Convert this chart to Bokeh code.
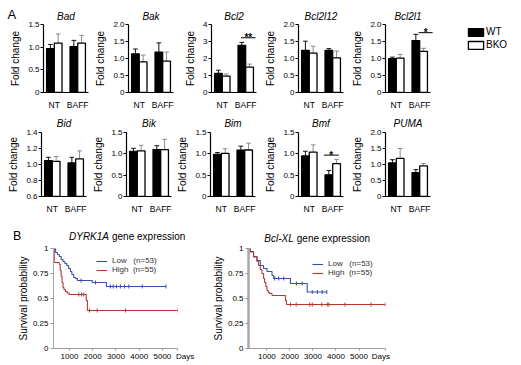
import numpy as np
from bokeh.plotting import figure
from bokeh.layouts import row, column
from bokeh.models import (Range1d, FixedTicker, Legend, LegendItem, ColumnDataSource)
from bokeh.embed import file_html
from bokeh.resources import INLINE
from bokeh.core.properties import value

FONT = "Liberation Sans"

# ---------------- data: panel A ----------------
conditions = ["NT", "BAFF"]
genotypes = ["WT", "BKO"]
genes_top = ["Bad", "Bak", "Bcl2", "Bcl2l12", "Bcl2l1"]
genes_bottom = ["Bid", "Bik", "Bim", "Bmf", "PUMA"]

wt_mean = {"Bad": [0.97, 1.01], "Bak": [1.14, 1.19], "Bcl2": [1.13, 2.78],
           "Bcl2l12": [1.24, 1.24], "Bcl2l1": [1.00, 1.53], "Bid": [1.05, 1.02],
           "Bik": [1.06, 1.10], "Bim": [0.99, 1.09], "Bmf": [0.95, 0.51],
           "PUMA": [1.05, 0.75]}
wt_sd = {"Bad": [0.09, 0.14], "Bak": [0.14, 0.27], "Bcl2": [0.18, 0.17],
         "Bcl2l12": [0.27, 0.05], "Bcl2l1": [0.04, 0.18], "Bid": [0.04, 0.07],
         "Bik": [0.07, 0.09], "Bim": [0.04, 0.09], "Bmf": [0.11, 0.10],
         "PUMA": [0.10, 0.09]}
bko_mean = {"Bad": [1.09, 1.09], "Bak": [0.90, 0.92], "Bcl2": [0.96, 1.49],
            "Bcl2l12": [1.16, 1.02], "Bcl2l1": [1.01, 1.21], "Bid": [1.04, 1.07],
            "Bik": [1.07, 1.10], "Bim": [1.01, 1.09], "Bmf": [1.04, 0.77],
            "PUMA": [1.19, 0.96]}
bko_sd = {"Bad": [0.20, 0.17], "Bak": [0.20, 0.27], "Bcl2": [0.13, 0.18],
          "Bcl2l12": [0.20, 0.20], "Bcl2l1": [0.11, 0.09], "Bid": [0.06, 0.10],
          "Bik": [0.13, 0.24], "Bim": [0.11, 0.16], "Bmf": [0.17, 0.10],
          "PUMA": [0.31, 0.07]}

y_limits = {"Bad": (0, 1.5), "Bak": (0, 2.0), "Bcl2": (0, 4), "Bcl2l12": (0, 2.0),
            "Bcl2l1": (0, 2.0), "Bid": (0.6, 1.4), "Bik": (0, 1.5), "Bim": (0, 1.5),
            "Bmf": (0, 1.5), "PUMA": (0, 2.0)}
ticks_15 = [0, 0.5, 1.0, 1.5]
labels_15 = ["0", "0.5", "1.0", "1.5"]
ticks_20 = [0, 0.5, 1.0, 1.5, 2.0]
labels_20 = ["0", "0.5", "1.0", "1.5", "2.0"]
y_ticks = {"Bad": ticks_15, "Bak": ticks_20, "Bcl2": [0, 1, 2, 3, 4],
           "Bcl2l12": ticks_20, "Bcl2l1": ticks_20, "Bid": [0.6, 0.8, 1.0, 1.2, 1.4],
           "Bik": ticks_15, "Bim": ticks_15, "Bmf": ticks_15, "PUMA": ticks_20}
y_tick_labels = {"Bad": labels_15, "Bak": labels_20, "Bcl2": ["0", "1", "2", "3", "4"],
                 "Bcl2l12": labels_20, "Bcl2l1": labels_20,
                 "Bid": ["0.6", "0.8", "1.0", "1.2", "1.4"],
                 "Bik": labels_15, "Bim": labels_15, "Bmf": labels_15, "PUMA": labels_20}

# significance: condition, bracket height, stars
significance = {"Bcl2": ("BAFF", 3.22, "**"), "Bcl2l1": ("BAFF", 1.76, "*"),
                "Bmf": ("BAFF", 0.97, "*")}

# ---------------- data: panel B ----------------
km1_low_days = [310, 400, 480, 560, 640, 720, 800, 880, 960, 1040, 1100, 1180, 1260, 1340, 1980, 2590, 5150]
km1_low_surv = [1.0, 0.96, 0.94, 0.92, 0.89, 0.87, 0.85, 0.83, 0.80, 0.77, 0.74, 0.71, 0.70, 0.68, 0.66, 0.62, 0.62]
km1_low_cens = [1500, 2120, 2760, 2880, 3020, 3190, 3370, 3550, 4130, 5150]
km1_high_days = [310, 340, 560, 600, 640, 680, 720, 760, 820, 900, 980, 1720, 1770, 5650]
km1_high_surv = [1.0, 0.86, 0.84, 0.78, 0.72, 0.66, 0.61, 0.59, 0.57, 0.555, 0.54, 0.48, 0.38, 0.38]
km1_high_cens = [1400, 1520, 1615, 1860, 2190, 3410, 5650]

km2_low_days = [200, 274, 418, 567, 711, 855, 1003, 1222, 1292, 2021, 2750, 3600]
km2_low_surv = [1.0, 0.97, 0.92, 0.88, 0.83, 0.80, 0.77, 0.73, 0.70, 0.65, 0.565, 0.565]
km2_low_cens = [1340, 1510, 1730, 2280, 2530, 2970, 3190, 3400, 3600]
km2_high_days = [200, 274, 418, 567, 637, 711, 785, 855, 899, 950, 1003, 1060, 1117, 1222, 1803, 1850, 6140]
km2_high_surv = [1.0, 0.965, 0.915, 0.87, 0.83, 0.79, 0.75, 0.70, 0.66, 0.62, 0.58, 0.56, 0.55, 0.53, 0.48, 0.44, 0.44]
km2_high_cens = [2020, 2270, 2860, 2970, 3380, 3620, 3690, 4390, 5520, 6140]

km_titles = [("DYRK1A", "gene expression"), ("Bcl-XL", "gene expression")]
km_day_ticks = [1000, 2000, 3000, 4000, 5000]
km_days_label = "Days"
km_surv_ticks = [0, 0.25, 0.5, 0.75, 1]
km_surv_labels = ["0", "0.25", "0.5", "0.75", "1"]
low_label = "Low\u00a0\u00a0\u00a0(n=53)"
high_label = "High\u00a0\u00a0(n=55)"

# ---------------- styling / layout ----------------
BW = 0.33
CAP = 0.1
XR = (0.54, 2.46)
PX_PER_UNIT = 45 / (XR[1] - XR[0])
BLUE = "#3450a8"
RED = "#b03a2e"
W = 521
NB = "\u00a0"
sig_span = {"Bcl2": (-0.2, 0.42), "Bcl2l1": (-0.05, 0.55), "Bmf": (-0.38, 0.26)}

# row geometry: (width, left border, right border)
geom_top = [(92, 43, 4), (83, 36, 2), (87, 36, 6), (87, 36, 6), (172, 36, 0)]
geom_bottom = [(90, 41, 4), (84, 36, 3), (88, 36, 7), (87, 36, 6), (172, 36, 91)]
geom_km = [(205, 53, 28), (316, 43, 136)]
H_HEAD1, H_ROW1, H_ROW2, H_HEAD3, H_ROW3 = 21, 91, 104, 28, 121
TXT_SHIFT = 3  # compensation for text baseline placement


def okey(v):
    return int(v) if float(v).is_integer() else v


def style(p):
    p.outline_line_color = None
    p.xgrid.grid_line_color = None
    p.ygrid.grid_line_color = None
    p.background_fill_color = "white"
    p.border_fill_color = "white"


def frame_centers(geom, frame_w=None):
    out, x = [], 0
    for w, bl, br in geom:
        fw = frame_w if frame_w is not None else (w - bl - br)
        out.append(x + bl + fw / 2)
        x += w
    return out


def frame_lefts(geom):
    out, x = [], 0
    for w, bl, br in geom:
        out.append(x + bl)
        x += w
    return out


def blank(width, height):
    p = figure(width=width, height=height, x_range=Range1d(0, width),
               y_range=Range1d(height, 0), x_axis_location=None, y_axis_location=None,
               min_border=0, output_backend="svg", toolbar_location=None)
    style(p)
    return p


def htext(p, xs, ys, texts, size, style_="normal", align="left"):
    src = ColumnDataSource(dict(x=xs, y=[y - TXT_SHIFT for y in ys], t=texts))
    p.text(x="x", y="y", text="t", source=src, text_align=align,
           text_baseline="alphabetic", text_font=value(FONT), text_font_size=size,
           text_font_style=style_, text_color="black")


cond_pos = {c: i + 1 for i, c in enumerate(conditions)}


def bar_panel(gene, width, height, bl, br, bt, bb, title=True):
    lo, hi = y_limits[gene]
    fw = width - bl - br
    x_end = XR[0] + fw / PX_PER_UNIT
    p = figure(x_range=Range1d(XR[0], x_end), y_range=Range1d(lo, hi), width=width,
               height=height, min_border_left=bl, min_border_right=br,
               min_border_top=bt, min_border_bottom=bb, output_backend="svg",
               toolbar_location=None, title=gene if title else None)
    style(p)
    if title:
        p.title.text_font = FONT
        p.title.text_font_style = "italic"
        p.title.text_font_size = "10px"
        p.title.text_color = "black"
        p.title.align = "center"
        p.title.standoff = 7
        p.title.offset = 0

    xs = np.array([cond_pos[c] for c in conditions], dtype=float)
    wt_hi = [m + s for m, s in zip(wt_mean[gene], wt_sd[gene])]
    bko_hi = [m + s for m, s in zip(bko_mean[gene], bko_sd[gene])]
    for off, means, his, col in [(-BW / 2, wt_mean[gene], wt_hi, "#111111"),
                                 (BW / 2, bko_mean[gene], bko_hi, "#8a8a8a")]:
        p.segment(x0=xs + off, x1=xs + off, y0=means, y1=his, line_color=col, line_width=1)
        p.segment(x0=xs + off - CAP, x1=xs + off + CAP, y0=his, y1=his, line_color=col,
                  line_width=1)
    wt_bar = p.vbar(x=xs - BW / 2, top=wt_mean[gene], bottom=lo, width=BW,
                    fill_color="black", line_color="black", line_width=1.2)
    bko_bar = p.vbar(x=xs + BW / 2, top=bko_mean[gene], bottom=lo, width=BW,
                     fill_color="white", line_color="black", line_width=1.3)

    if gene in significance:
        cond, yv, stars = significance[gene]
        a, b = sig_span[gene]
        c = cond_pos[cond]
        p.segment(x0=[c + a], x1=[c + b], y0=[yv], y1=[yv], line_color="black",
                  line_width=1)
        p.text(x=[c + (a + b) / 2], y=[yv], text=[stars], text_align="center",
               text_baseline="alphabetic", text_font=value(FONT),
               text_font_size="10px", text_font_style="bold", text_color="black")

    ya = p.yaxis[0]
    ya.ticker = FixedTicker(ticks=y_ticks[gene])
    ya.major_label_overrides = {okey(t): l for t, l in zip(y_ticks[gene], y_tick_labels[gene])}
    ya.axis_line_color = "black"
    ya.axis_line_width = 1.2
    ya.major_tick_line_color = "black"
    ya.major_tick_out = 3
    ya.major_tick_in = 0
    ya.minor_tick_line_color = None
    ya.major_label_text_font = FONT
    ya.major_label_text_font_size = "8px"
    ya.major_label_text_color = "black"
    ya.major_label_standoff = 1
    ya.axis_label = "Fold change"
    ya.axis_label_text_font = FONT
    ya.axis_label_text_font_style = "normal"
    ya.axis_label_text_font_size = "10px"
    ya.axis_label_text_color = "black"
    ya.axis_label_standoff = 4

    xa = p.xaxis[0]
    xa.ticker = FixedTicker(ticks=[cond_pos[c] for c in conditions])
    xa.major_label_overrides = {cond_pos[c]: c for c in conditions}
    xa.bounds = XR
    xa.axis_line_color = "black"
    xa.axis_line_width = 1.2
    xa.major_tick_line_color = None
    xa.minor_tick_line_color = None
    xa.major_label_text_font = FONT
    xa.major_label_text_font_size = "8.5px"
    xa.major_label_text_color = "black"
    xa.major_label_standoff = 1
    return p, wt_bar, bko_bar


def km_panel(days_lo, surv_lo, cens_lo, days_hi, surv_hi, cens_hi, xr, geom, height,
             bt, bb, leg_loc, yaxis_w, days_text):
    width, bl, br = geom
    p = figure(x_range=Range1d(*xr), y_range=Range1d(0, 1), width=width, height=height,
               min_border_left=bl, min_border_right=br, min_border_top=bt,
               min_border_bottom=bb, output_backend="svg", toolbar_location=None)
    style(p)
    r_lo = p.step(days_lo, surv_lo, mode="after", line_color=BLUE, line_width=1.1)
    r_hi = p.step(days_hi, surv_hi, mode="after", line_color=RED, line_width=1.1)
    for d, s, c, col in [(days_lo, surv_lo, cens_lo, BLUE), (days_hi, surv_hi, cens_hi, RED)]:
        idx = np.searchsorted(np.array(d), np.array(c), side="right") - 1
        cy = np.array(s)[idx]
        p.scatter(c, cy, marker="dash", angle=np.pi / 2, size=4, line_color=col,
                  line_width=1)

    leg = Legend(items=[LegendItem(label=low_label, renderers=[r_lo]),
                        LegendItem(label=high_label, renderers=[r_hi])],
                 location=leg_loc, padding=0, margin=0, spacing=0,
                 label_height=8, glyph_height=8, glyph_width=11, label_standoff=5,
                 label_text_font=FONT, label_text_font_size="8px",
                 label_text_color="#333333", background_fill_alpha=0,
                 border_line_color=None)
    p.add_layout(leg)

    end_tick = xr[1] - 5
    xa = p.xaxis[0]
    xa.ticker = FixedTicker(ticks=km_day_ticks + [end_tick])
    xa.major_label_overrides = {end_tick: days_text}
    xa.axis_line_color = "#9a9a9a"
    xa.major_tick_line_color = "#9a9a9a"
    xa.major_tick_out = 2
    xa.major_tick_in = 0
    xa.minor_tick_line_color = None
    xa.major_label_text_font = FONT
    xa.major_label_text_font_size = "8px"
    xa.major_label_text_color = "black"
    xa.major_label_standoff = 1

    ya = p.yaxis[0]
    ya.ticker = FixedTicker(ticks=km_surv_ticks)
    ya.major_label_overrides = {okey(t): l for t, l in zip(km_surv_ticks, km_surv_labels)}
    ya.axis_line_color = "#a8a8a8"
    ya.axis_line_width = yaxis_w
    ya.major_tick_line_color = "#9a9a9a"
    ya.major_tick_out = 3
    ya.major_tick_in = 0
    ya.minor_tick_line_color = None
    ya.major_label_text_font = FONT
    ya.major_label_text_font_size = "8px"
    ya.major_label_text_color = "black"
    ya.major_label_standoff = 2
    ya.axis_label = "Survival probability"
    ya.axis_label_text_font = FONT
    ya.axis_label_text_font_style = "normal"
    ya.axis_label_text_font_size = "10px"
    ya.axis_label_text_color = "black"
    ya.axis_label_standoff = 1
    return p


# ---- header above row 1: panel letter + gene titles ----
head1 = blank(W, H_HEAD1)
htext(head1, [7], [16.5], ["A"], "13px")
htext(head1, frame_centers(geom_top, 45), [18.5] * len(genes_top), genes_top, "10px",
      "italic", "center")

top_figs = []
for i, (g, (w, bl, br)) in enumerate(zip(genes_top, geom_top)):
    p, wb, kb = bar_panel(g, w, H_ROW1, bl, br, 3, 14, title=False)
    if i == len(genes_top) - 1:
        p.add_layout(Legend(items=[LegendItem(label=genotypes[0], renderers=[wb]),
                                   LegendItem(label=genotypes[1], renderers=[kb])],
                            location=(81, 41), padding=0, margin=0, spacing=0,
                            label_height=13, glyph_height=10, glyph_width=19,
                            label_standoff=1, label_text_font=FONT,
                            label_text_font_size="10px", label_text_color="black",
                            background_fill_alpha=0, border_line_color=None))
    top_figs.append(p)

bottom_figs = []
for g, (w, bl, br) in zip(genes_bottom, geom_bottom):
    bottom_figs.append(bar_panel(g, w, H_ROW2, bl, br, 17, 13)[0])

# ---- header above row 3: panel letter + survival titles ----
head3 = blank(W, H_HEAD3)
km_lefts = frame_lefts(geom_km)
htext(head3, [12.5], [22.8], ["B"], "12.5px")
htext(head3, [km_lefts[0] + 55.5, km_lefts[1] + 45.3], [22.8, 25.2],
      [t[0] for t in km_titles], "10px", "italic", "right")
htext(head3, [km_lefts[0] + 58.5, km_lefts[1] + 48.3], [22.8, 25.2],
      [t[1] for t in km_titles], "10px", "normal", "left")

km1 = km_panel(km1_low_days, km1_low_surv, km1_low_cens, km1_high_days, km1_high_surv,
               km1_high_cens, (310, 5650), geom_km[0], H_ROW3, 4, 17, (43, 74), 1,
               NB * 7 + km_days_label)
km2 = km_panel(km2_low_days, km2_low_surv, km2_low_cens, km2_high_days, km2_high_surv,
               km2_high_cens, (200, 6150), geom_km[1], H_ROW3, 4, 17, (64, 71), 2.5,
               km_days_label + NB * 4)

layout = column(head1, row(*top_figs, spacing=0), row(*bottom_figs, spacing=0),
                head3, row(km1, km2, spacing=0), spacing=0)

open("out.html", "w").write(file_html(layout, INLINE))
